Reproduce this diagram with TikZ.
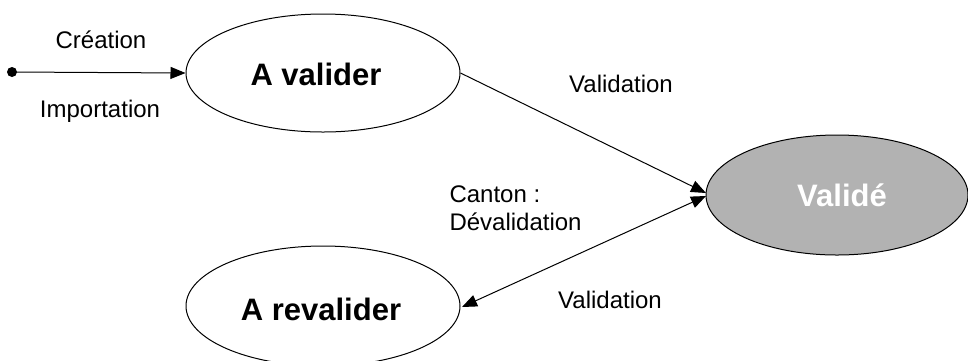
\documentclass[tikz,border=0pt]{standalone}
\usepackage{fontspec}
\setmainfont{Liberation Sans}
\usetikzlibrary{shapes.geometric,arrows.meta}
\begin{document}
\begin{tikzpicture}[x=1pt,y=-1pt,
  state/.style={draw=black,line width=1pt,ellipse,inner sep=0pt},
  lbl/.style={font=\fontsize{24}{28}\selectfont,anchor=base},
  big/.style={font=\fontsize{31}{36}\selectfont\bfseries,anchor=base},
  tip/.style={Triangle[length=15pt,width=12pt]},
  conn/.style={line width=1pt,-{Triangle[length=15pt,width=12pt]}}]
\useasboundingbox (0,0) rectangle (968,360);
\node[state,minimum width=274pt,minimum height=118pt] (av) at (323,73) {};
\node[big] (avt) at (316,85) {A valider};
\node[state,fill=black!30,minimum width=262pt,minimum height=120pt] (va) at (837,195) {};
\node[big,text=white] (vat) at (842,206) {Validé};
\node[state,minimum width=274pt,minimum height=120pt] (ar) at (323,306) {};
\node[big] (art) at (321,320) {A revalider};
\fill (12,72) circle (5pt) coordinate (start);
\coordinate (vin) at (706,193);
\coordinate (vout) at (706,196);
\coordinate (arin) at (462,307);
\draw[conn] (start) -- (av.west);
\draw[conn] (av.east) -- (vin);
\draw[line width=1pt,{Triangle[length=15pt,width=12pt]}-{Triangle[length=15pt,width=12pt]}] (vout) -- (arin);
\node[lbl] (l1) at (101,48) {Création};
\node[lbl] (l2) at (100,117) {Importation};
\node[lbl] (l3) at (621,92) {Validation};
\node[lbl,anchor=base west] (l4) at (446,202) {Canton :};
\node[lbl,anchor=base west] (l5) at (446,230) {Dévalidation};
\node[lbl] (l6) at (610,308) {Validation};
\end{tikzpicture}
\end{document}
